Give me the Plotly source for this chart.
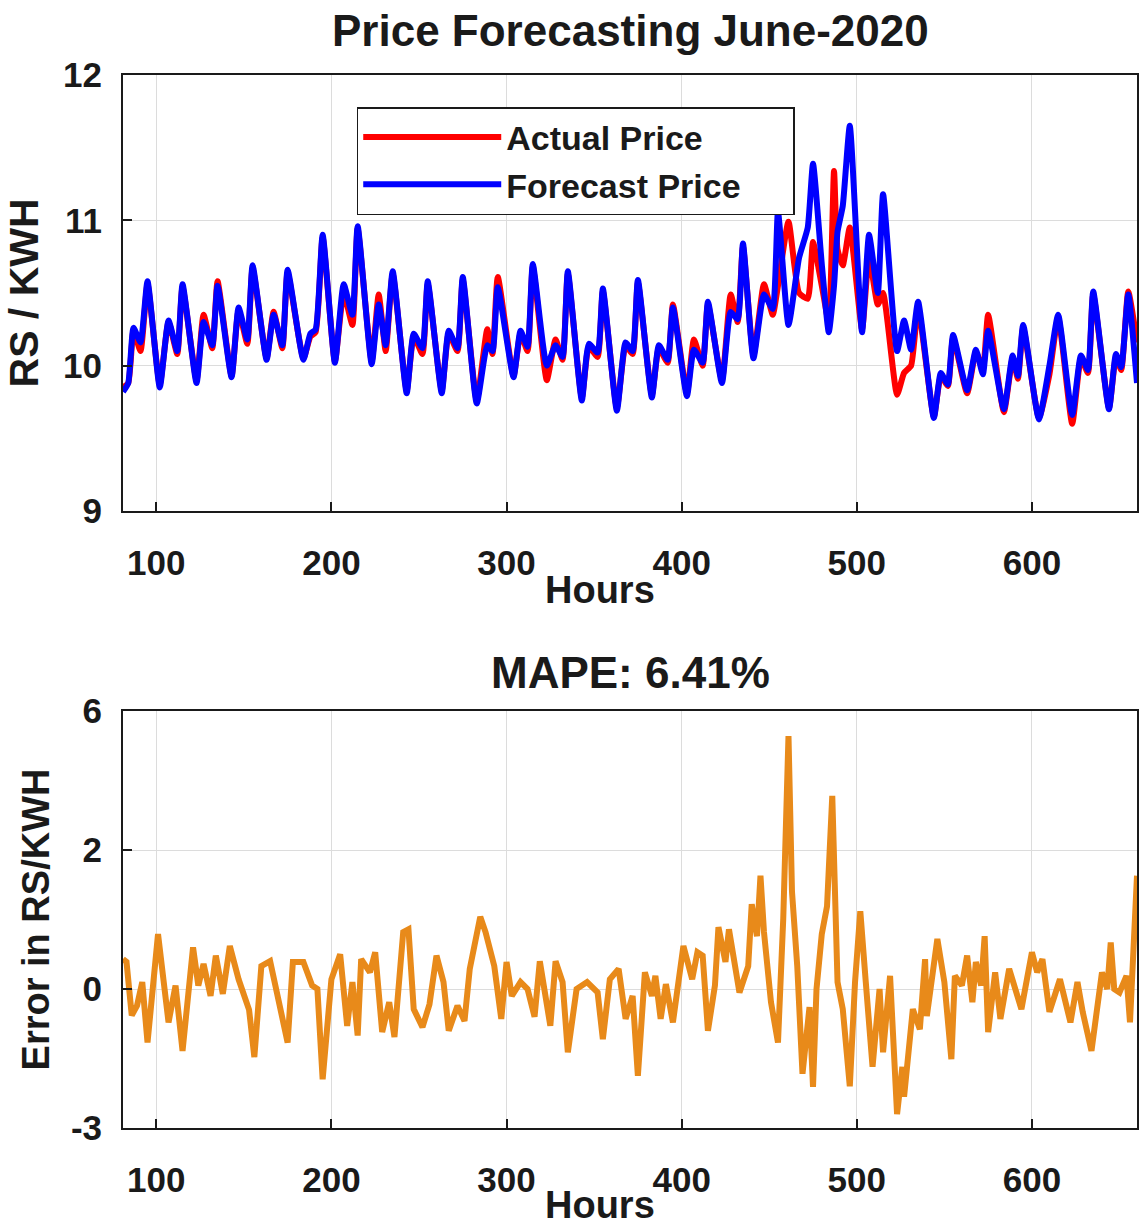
import plotly.graph_objects as go

# hours (turning points)
hours = [81, 84, 87, 91, 95, 102, 107, 112, 115, 123, 127, 132, 135, 143, 147, 152, 155,
         163, 167, 172, 175, 184, 188, 191, 195, 202, 207, 212, 215, 223, 227, 231, 235,
         243, 247, 252, 255, 263, 267, 272, 275, 283, 289, 292, 295, 304, 308, 312, 315,
         323, 328, 332, 335, 343, 347, 352, 355, 363, 368, 372, 375, 383, 387, 392, 395,
         403, 407, 412, 415, 423, 428, 432, 435, 441, 447, 452, 455, 461, 467, 472, 475,
         480, 484, 487, 489, 492, 496, 503, 507, 512, 515, 523, 527, 531, 535, 544, 548,
         552, 555, 563, 568, 572, 575, 584, 589, 592, 595, 604, 610, 615, 623, 628, 632,
         635, 644, 648, 651, 655, 660]

forecast = [9.82, 9.88, 10.26, 10.16, 10.58, 9.85, 10.31, 10.10, 10.56, 9.88, 10.30, 10.14, 10.55,
            9.92, 10.40, 10.18, 10.69, 10.04, 10.35, 10.14, 10.66, 10.04, 10.22, 10.25, 10.90,
            10.02, 10.56, 10.35, 10.96, 10.01, 10.42, 10.14, 10.65, 9.81, 10.22, 10.12, 10.58,
            9.81, 10.24, 10.12, 10.61, 9.74, 10.14, 10.10, 10.54, 9.92, 10.24, 10.13, 10.70,
            10.00, 10.14, 10.06, 10.65, 9.76, 10.15, 10.09, 10.53, 9.69, 10.16, 10.10, 10.59,
            9.78, 10.14, 10.04, 10.40, 9.79, 10.11, 10.02, 10.44, 9.88, 10.37, 10.32, 10.84,
            10.05, 10.49, 10.39, 11.06, 10.28, 10.74, 10.95, 11.39, 10.70, 10.23, 10.55, 10.92,
            11.10, 11.65, 10.23, 10.90, 10.50, 11.18, 10.10, 10.31, 10.11, 10.44, 9.64, 9.95,
            9.87, 10.21, 9.83, 10.11, 9.94, 10.24, 9.70, 10.07, 9.93, 10.28, 9.63, 10.00,
            10.35, 9.66, 10.07, 9.97, 10.51, 9.70, 10.08, 9.99, 10.49, 9.88]

actual = [9.85, 9.88, 10.24, 10.10, 10.56, 9.87, 10.30, 10.08, 10.54, 9.90, 10.35, 10.12, 10.58,
          9.93, 10.38, 10.15, 10.67, 10.05, 10.37, 10.12, 10.64, 10.05, 10.20, 10.23, 10.88,
          10.03, 10.50, 10.28, 10.94, 10.03, 10.49, 10.10, 10.63, 9.83, 10.20, 10.08, 10.56,
          9.83, 10.22, 10.10, 10.59, 9.76, 10.25, 10.08, 10.61, 9.93, 10.22, 10.10, 10.68,
          9.90, 10.18, 10.04, 10.63, 9.78, 10.13, 10.06, 10.51, 9.71, 10.14, 10.08, 10.57,
          9.80, 10.12, 10.02, 10.42, 9.81, 10.18, 10.00, 10.42, 9.90, 10.49, 10.30, 10.82,
          10.07, 10.56, 10.35, 10.55, 10.99, 10.50, 10.46, 10.85, 10.55, 10.30, 11.34, 10.80,
          10.69, 10.95, 10.25, 10.75, 10.42, 10.50, 9.80, 9.95, 10.00, 10.40, 9.65, 9.93,
          9.86, 10.19, 9.81, 10.09, 9.98, 10.35, 9.68, 10.05, 9.91, 10.26, 9.64, 9.94,
          10.33, 9.60, 10.05, 9.95, 10.49, 9.71, 10.06, 9.97, 10.51, 10.16]

err_hours = [81, 83, 86, 89, 92, 95, 101, 107, 111, 115, 121, 124, 127, 131, 134, 138, 142,
             147, 153, 156, 160, 165, 175, 178, 184, 189, 192, 195, 200, 205, 209, 212, 215,
             217, 222, 225, 229, 233, 236, 241, 244, 247, 252, 256, 260, 264, 267, 272, 276,
             279, 285, 288, 293, 297, 300, 303, 308, 312, 316, 319, 325, 328, 332, 335, 340,
             346, 352, 355, 359, 364, 368, 372, 375, 379, 383, 385, 388, 391, 395, 401, 406,
             409, 412, 415, 419, 421, 425, 427, 433, 438, 440, 443, 445, 447, 451, 455, 458,
             461, 463, 466, 469, 473, 475, 477, 480, 483, 486, 489, 492, 496, 499, 502, 505,
             509, 513, 515, 519, 522, 523, 526, 527, 532, 536, 539, 540, 546, 550, 554, 556,
             560, 563, 566, 568, 571, 573, 575, 579, 582, 587, 594, 600, 603, 606, 610, 616,
             622, 626, 629, 634, 640, 643, 645, 647, 650, 654, 656, 660]

error = [0.43, 0.39, -0.38, -0.24, 0.10, -0.77, 0.79, -0.48, 0.05, -0.89, 0.60, 0.05, 0.36,
         -0.10, 0.48, -0.07, 0.62, 0.14, -0.30, -0.98, 0.33, 0.40, -0.77, 0.39, 0.39, 0.05,
         0.0, -1.30, 0.14, 0.50, -0.53, 0.10, -0.67, 0.43, 0.24, 0.53, -0.62, -0.19, -0.69,
         0.82, 0.86, -0.29, -0.55, -0.22, 0.48, 0.10, -0.60, -0.24, -0.46, 0.29, 1.04, 0.82,
         0.33, -0.43, 0.39, -0.10, 0.10, 0.0, -0.40, 0.40, -0.53, 0.40, 0.10, -0.91, 0.0,
         0.10, -0.05, -0.72, 0.14, 0.29, -0.43, -0.10, -1.25, 0.24, -0.10, 0.19, -0.43, 0.07,
         -0.48, 0.62, 0.14, 0.53, 0.48, -0.60, 0.05, 0.89, 0.39, 0.86, -0.05, 0.33, 1.22,
         0.76, 1.63, 0.82, -0.19, -0.77, 1.01, 3.64, 1.40, 0.33, -1.22, -0.26, -1.41, 0.0,
         0.79, 1.19, 2.78, 0.10, -0.29, -1.40, 0.10, 1.12, 0.14, -1.12, 0.0, -0.91, 0.19,
         -1.34, -1.80, -1.12, -1.55, -0.29, -0.58, 0.43, -0.39, 0.72, 0.10, -1.01, 0.19,
         0.05, 0.48, -0.19, 0.39, 0.05, 0.76, -0.62, 0.24, -0.43, 0.29, -0.29, 0.53, 0.24,
         0.43, -0.33, 0.14, -0.48, 0.10, -0.33, -0.89, 0.24, 0.0, 0.67, 0.0, -0.05, 0.19,
         -0.48, 1.63]

x_ticks = [100, 200, 300, 400, 500, 600]
y1_ticks = [9, 10, 11, 12]
y2_ticks = [-2, 0, 2, 4]
y2_labels = ["-3", "0", "2", "6"]

FONT = "Liberation Sans, Arial, sans-serif"
INK = "#1a1a1a"
PAD = "\u00a0" * 5  # extra room at the right of the legend box

fig = go.Figure()
fig.add_trace(go.Scatter(x=hours, y=actual, name="Actual Price" + PAD, mode="lines",
                         line=dict(color="#ff0000", width=6, shape="spline", smoothing=0.5),
                         xaxis="x", yaxis="y"))
fig.add_trace(go.Scatter(x=hours, y=forecast, name="Forecast Price" + PAD, mode="lines",
                         line=dict(color="#0000ff", width=6, shape="spline", smoothing=0.5),
                         xaxis="x", yaxis="y"))
fig.add_trace(go.Scatter(x=err_hours, y=error, mode="lines", showlegend=False,
                         line=dict(color="#e88a1a", width=6),
                         xaxis="x2", yaxis="y2"))

axis_style = dict(showline=True, mirror=True, linecolor=INK, linewidth=2,
                  ticks="inside", ticklen=9, tickwidth=1.5, tickcolor=INK,
                  showgrid=True, gridcolor="#dcdcdc", gridwidth=1, zeroline=False,
                  automargin=False,
                  tickfont=dict(family=FONT, size=35, color=INK, weight="bold"))


def label(text, x, y, size):
    return dict(text=text, x=x, y=y, xref="paper", yref="paper", showarrow=False,
                xanchor="center", yanchor="middle",
                font=dict(family=FONT, size=size, color=INK, weight="bold"))


fig.update_layout(
    width=1139, height=1225,
    margin=dict(l=123, r=2, t=75, b=97),
    paper_bgcolor="white", plot_bgcolor="white",
    font=dict(family=FONT, color=INK),
    xaxis=dict(domain=[0, 1], range=[81, 660], tickvals=x_ticks, anchor="y",
               ticklabelstandoff=20, **axis_style),
    yaxis=dict(domain=[0.586, 1], range=[9, 12], tickvals=y1_ticks, anchor="x",
               ticklabelstandoff=12,
               title=dict(text="RS / KWH", standoff=12,
                          font=dict(family=FONT, size=41, color=INK, weight="bold")),
               **axis_style),
    xaxis2=dict(domain=[0, 1], range=[81, 660], tickvals=x_ticks, anchor="y2",
                ticklabelstandoff=20, **axis_style),
    yaxis2=dict(domain=[0, 0.396], range=[-2, 4], tickvals=y2_ticks, ticktext=y2_labels,
                anchor="x2", ticklabelstandoff=12,
                title=dict(text="Error in RS/KWH", standoff=10,
                           font=dict(family=FONT, size=38, color=INK, weight="bold")),
                **axis_style),
    legend=dict(x=0.2305, y=0.9696, xanchor="left", yanchor="top",
                bgcolor="white", bordercolor=INK, borderwidth=1.5,
                font=dict(family=FONT, size=34, color=INK, weight="bold"),
                itemwidth=138, tracegroupgap=0),
    annotations=[
        label("Price Forecasting June-2020", 0.5, 1.0427, 44),
        label("MAPE: 6.41%", 0.5, 0.433, 44),
        label("Hours", 0.47, 0.511, 38),
        label("Hours", 0.47, -0.073, 38),
    ],
)

# drop the default 8px page margin so the figure fills the window exactly
fig.write_html("out.html", config={"displayModeBar": False},
               post_script="document.body.style.margin = '0';")
